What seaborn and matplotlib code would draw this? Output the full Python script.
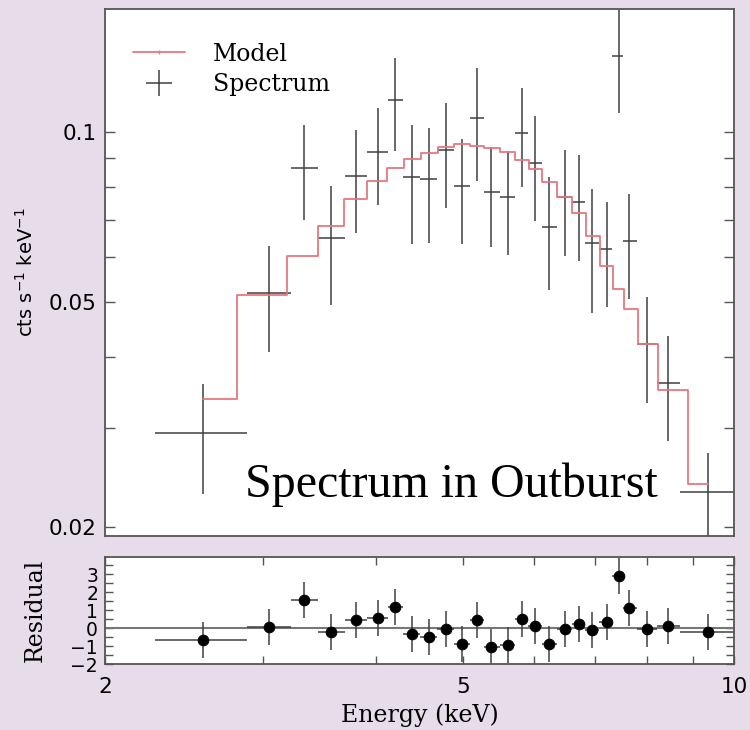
import matplotlib
matplotlib.use("Agg")
import matplotlib.pyplot as plt
from matplotlib.lines import Line2D
from matplotlib.ticker import FixedLocator, FixedFormatter, NullFormatter
import numpy as np
import seaborn as sns

# ------------------------------------------------------------------
# Spectrum data (keV, cts/s/keV)
# ------------------------------------------------------------------
energy = [2.570, 3.042, 3.328, 3.566, 3.800, 4.022, 4.200, 4.387, 4.582, 4.786,
          4.986, 5.182, 5.370, 5.608, 5.813, 6.010, 6.228, 6.490, 6.727, 6.952,
          7.224, 7.450, 7.642, 8.005, 8.446, 9.354]
e_lo = [2.274, 2.876, 3.218, 3.449, 3.696, 3.910, 4.125, 4.288, 4.477, 4.676,
        4.884, 5.088, 5.274, 5.494, 5.708, 5.902, 6.118, 6.357, 6.606, 6.830,
        7.079, 7.318, 7.526, 7.801, 8.210, 8.709]
e_hi = [2.876, 3.218, 3.449, 3.696, 3.910, 4.125, 4.288, 4.477, 4.676, 4.884,
        5.088, 5.274, 5.494, 5.708, 5.902, 6.118, 6.357, 6.606, 6.830, 7.079,
        7.318, 7.526, 7.801, 8.210, 8.709, 10.28]
flux = [0.0294, 0.0519, 0.0864, 0.0649, 0.0836, 0.0922, 0.1139, 0.0832, 0.0826, 0.0929,
        0.0802, 0.1059, 0.0783, 0.0767, 0.0996, 0.0881, 0.0679, 0.0767, 0.0752, 0.0636,
        0.0621, 0.1363, 0.0641, 0.0421, 0.0360, 0.0231]
flux_err = [0.0065, 0.0110, 0.0166, 0.0155, 0.0172, 0.0179, 0.0215, 0.0198, 0.0190, 0.0196,
            0.0169, 0.0240, 0.0156, 0.0160, 0.0198, 0.0185, 0.0153, 0.0163, 0.0160, 0.0157,
            0.0130, 0.0283, 0.0135, 0.0089, 0.0076, 0.0040]
model = [0.0337, 0.0515, 0.0603, 0.0682, 0.0761, 0.0819, 0.0864, 0.0896, 0.0918, 0.0941,
         0.0952, 0.0945, 0.0937, 0.0922, 0.0892, 0.0860, 0.0816, 0.0767, 0.0719, 0.0655,
         0.0579, 0.0527, 0.0486, 0.0421, 0.0349, 0.0238]
resid = [-0.67, 0.05, 1.55, -0.20, 0.45, 0.55, 1.15, -0.33, -0.50, -0.05,
         -0.90, 0.45, -1.05, -0.95, 0.50, 0.10, -0.90, -0.05, 0.20, -0.10,
         0.33, 2.90, 1.10, -0.05, 0.10, -0.20]
resid_err = [1.0, 1.0, 1.0, 1.0, 1.0, 1.0, 1.0, 1.0, 1.0, 1.0,
             1.0, 1.0, 1.0, 1.0, 1.0, 1.0, 1.0, 1.0, 1.0, 1.0,
             1.0, 1.0, 1.0, 1.0, 1.0, 1.0]

BG = "#e6dcea"
SPINE = "#555555"
ERR = "#404040"
MODEL_C = "#e8777f"

sns.set_style("ticks")
plt.rcParams["font.family"] = ["DejaVu Sans"]
plt.rcParams["text.color"] = "black"
plt.rcParams["axes.labelcolor"] = "black"
plt.rcParams["xtick.labelcolor"] = "black"
plt.rcParams["ytick.labelcolor"] = "black"

xerr = [np.array(energy) - np.array(e_lo), np.array(e_hi) - np.array(energy)]

fig = plt.figure(figsize=(7.5, 7.3), dpi=100, facecolor=BG)
ax = fig.add_axes([0.14, 0.2658, 0.8387, 0.7219])
axr = fig.add_axes([0.14, 0.0904, 0.8387, 0.1466])

# ---------------- top panel: spectrum + model ----------------
ax.errorbar(energy, flux, xerr=xerr, yerr=flux_err, fmt="none",
            ecolor=ERR, elinewidth=1.1)
sns.lineplot(x=energy, y=model, drawstyle="steps-mid", color=MODEL_C,
             lw=1.3, ax=ax, legend=False)

ax.set_xscale("log")
ax.set_yscale("log")
ax.set_xlim(2, 10)
ax.set_ylim(0.0193, 0.165)
ax.yaxis.set_major_locator(FixedLocator([0.02, 0.05, 0.1]))
ax.yaxis.set_major_formatter(FixedFormatter(["0.02", "0.05", "0.1"]))
ax.yaxis.set_minor_locator(FixedLocator([0.03, 0.04, 0.06, 0.07, 0.08, 0.09]))
ax.yaxis.set_minor_formatter(NullFormatter())
ax.tick_params(axis="x", which="both", bottom=False, top=False, labelbottom=False)
ax.tick_params(axis="y", which="both", direction="in", left=True, right=True,
               length=7, width=1, color=SPINE, labelsize=15.5, pad=6)
ax.set_ylabel("cts s$^{-1}$ keV$^{-1}$", fontsize=14)
ax.yaxis.set_label_coords(-0.108, 0.5)

ax.text(0.2226, 0.074, "Spectrum in Outburst", transform=ax.transAxes,
        fontsize=34.5, family="Liberation Serif", ha="left", va="baseline")

handles = [
    Line2D([], [], color=MODEL_C, lw=1.3, marker="|", markersize=3),
    Line2D([], [], color=ERR, marker="+", markersize=19, markeredgewidth=1.1,
           linestyle="None"),
]
ax.legend(handles, ["Model", "Spectrum"], loc="upper left",
          bbox_to_anchor=(0.0445, 0.936), frameon=False, borderpad=0,
          borderaxespad=0, handlelength=2.2, handletextpad=1.19,
          labelspacing=0.3, prop={"family": "DejaVu Serif", "size": 17})

# ---------------- bottom panel: residuals ----------------
axr.axhline(0, color="#777777", lw=1.5, zorder=1)
axr.errorbar(energy, resid, xerr=xerr, yerr=resid_err, fmt="none",
             ecolor=ERR, elinewidth=1.1, zorder=2)
sns.scatterplot(x=energy, y=resid, color="black", s=60, edgecolor="black",
                ax=axr, zorder=3, legend=False)

axr.set_xscale("log")
axr.set_xlim(2, 10)
axr.set_ylim(-2.0, 3.95)
axr.xaxis.set_major_locator(FixedLocator([2, 5, 10]))
axr.xaxis.set_major_formatter(FixedFormatter(["2", "5", "10"]))
axr.xaxis.set_minor_locator(FixedLocator([3, 4, 6, 7, 8, 9]))
axr.xaxis.set_minor_formatter(NullFormatter())
axr.yaxis.set_major_locator(FixedLocator([-2, -1, 0, 1, 2, 3]))
axr.yaxis.set_major_formatter(FixedFormatter(["\u22122", "\u22121", "0", "1", "2", "3"]))
axr.yaxis.set_minor_locator(FixedLocator([-1.5, -0.5, 0.5, 1.5, 2.5, 3.5]))
axr.yaxis.set_minor_formatter(NullFormatter())
axr.tick_params(axis="x", which="both", direction="in", top=True, bottom=True,
                length=6, width=1, color=SPINE, labelsize=15.5, pad=9)
axr.tick_params(axis="y", which="both", direction="in", left=True, right=True,
                length=6, width=1, color=SPINE, labelsize=13.5, pad=5)
axr.set_xlabel("Energy (keV)", fontsize=17, family="DejaVu Serif")
axr.xaxis.set_label_coords(0.5, -0.37)
axr.set_ylabel("Residual", fontsize=17, family="DejaVu Serif")
axr.yaxis.set_label_coords(-0.092, 0.5)

for a in (ax, axr):
    a.set_facecolor("white")
    for s in a.spines.values():
        s.set_color(SPINE)
        s.set_linewidth(1.3)

fig.savefig("out.png", dpi=100, facecolor=BG)
